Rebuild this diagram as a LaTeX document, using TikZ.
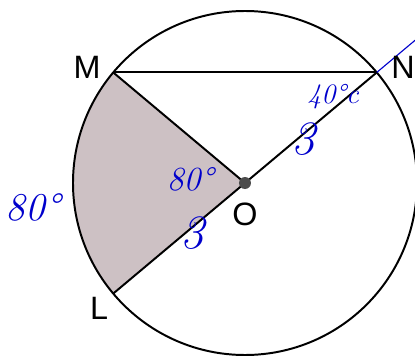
\documentclass[tikz,border=0pt]{standalone}
\usepackage{fontspec}
\setsansfont{Liberation Sans}
\usetikzlibrary{positioning}

\begin{document}
\begin{tikzpicture}[x=0.025cm, y=0.025cm, line width=1.4pt,
  lbl/.style={font=\sffamily\fontsize{23}{26}\selectfont, inner sep=0pt},
  ink/.style={text=blue!80!black, font=\itshape\fontsize{#1}{#1}\selectfont, inner sep=0pt},
  ink/.default=22]
\useasboundingbox (-245,-173) rectangle (170,183);
\coordinate (O) at (0,0);
\coordinate (M) at (140:172);
\coordinate (N) at (40:172);
\coordinate (L) at (220:172);
\coordinate (T) at (40:224);
% shaded sector
\fill[fill={rgb,255:red,205;green,193;blue,196}] (O) -- (M) arc[start angle=140, end angle=220, radius=172] -- cycle;
\draw (O) circle[radius=172];
\draw (M) -- (N);
\draw (M) -- (O);
\draw (L) -- (N);
\draw[blue!80!black, line width=0.8pt] (N) -- (T);
\fill[black!70] (O) circle[radius=6];
\node[lbl] (lm) at (-158,116) {M};
\node[lbl] (ln) at (158,116) {N};
\node[lbl] (lo) at (0,-31) {O};
\node[lbl] (ll) at (-146,-125) {L};
% handwritten notes
\node[ink=28] (a1) at (-212,-24) {80\textdegree};
\node[ink=24] (a2) at (-55,4) {80\textdegree};
\node[ink=20] (a3) at (88,86) {40\textdegree c};
\node[ink=34] (s1) at (58,44) {3};
\node[ink=34] (s2) at (-53,-50) {3};
\end{tikzpicture}
\end{document}
